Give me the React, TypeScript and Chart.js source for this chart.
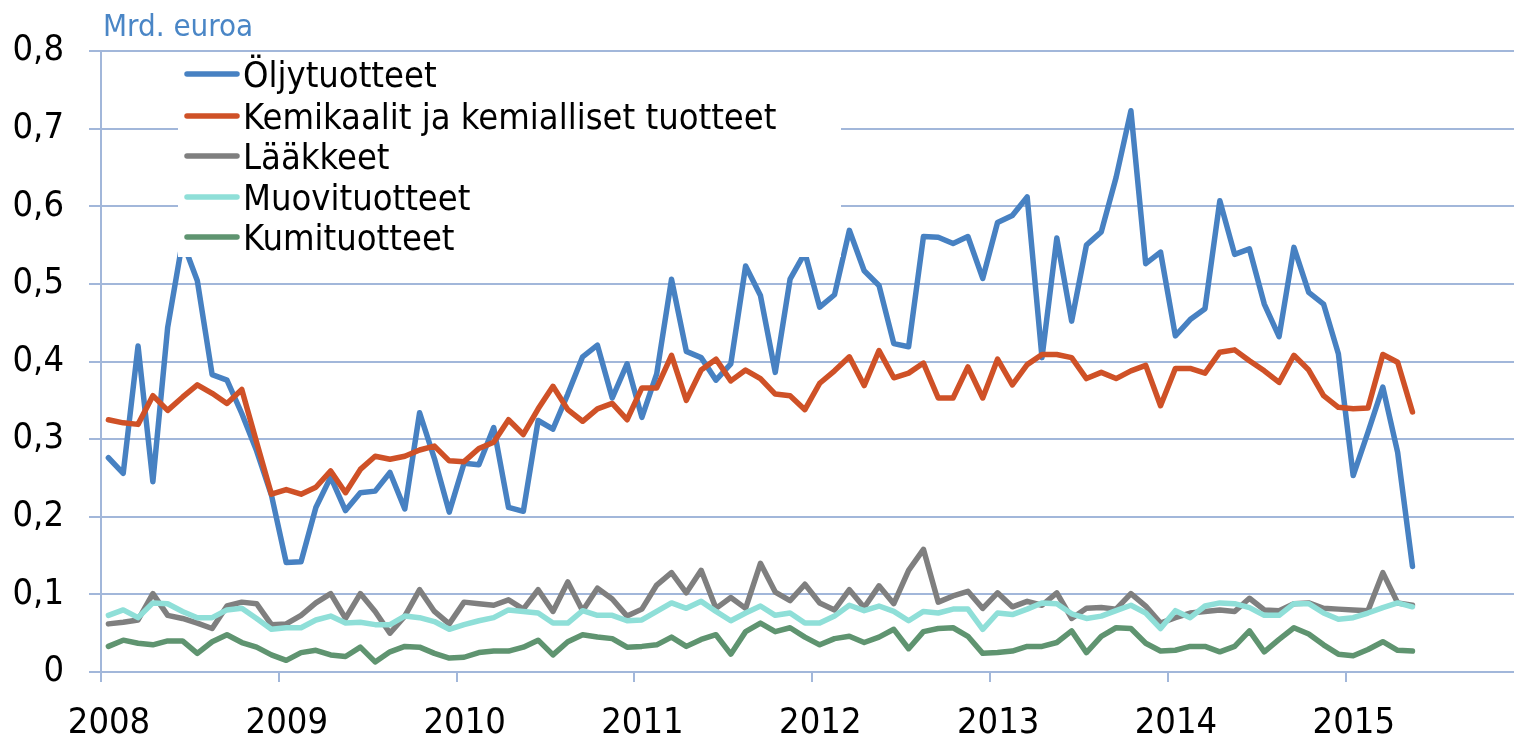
import { useEffect, useRef } from 'react';
import { Chart, registerables } from 'chart.js';

Chart.register(...registerables);

const FONT = "'DejaVu Sans Condensed', 'DejaVu Sans', Verdana, sans-serif";

const firstYear = 2008;
const lastAxisYear = 2015.946;
const yearTicks = [2008, 2009, 2010, 2011, 2012, 2013, 2014, 2015];
const yTickValues = [0, 0.1, 0.2, 0.3, 0.4, 0.5, 0.6, 0.7, 0.8];
const unitLabel = 'Mrd. euroa';

const seriesNames = [
  'Öljytuotteet',
  'Kemikaalit ja kemialliset tuotteet',
  'Lääkkeet',
  'Muovituotteet',
  'Kumituotteet',
];
const seriesColors = ['#4781C2', '#CF5127', '#7F7F7F', '#8FDFD8', '#5F9470'];

// monthly values, Jan 2008 – May 2015
const oljytuotteet = [
  0.276, 0.256, 0.420, 0.245, 0.444, 0.555, 0.504, 0.383, 0.376, 0.333, 0.285, 0.228,
  0.141, 0.142, 0.212, 0.251, 0.208, 0.231, 0.233, 0.257, 0.210, 0.334, 0.275, 0.206,
  0.269, 0.267, 0.315, 0.212, 0.207, 0.324, 0.313, 0.358, 0.406, 0.421, 0.353, 0.397,
  0.328, 0.384, 0.506, 0.413, 0.405, 0.376, 0.397, 0.523, 0.485, 0.386, 0.506, 0.540,
  0.470, 0.486, 0.569, 0.517, 0.498, 0.423, 0.419, 0.561, 0.560, 0.552, 0.561, 0.507,
  0.579, 0.588, 0.612, 0.405, 0.559, 0.452, 0.550, 0.567, 0.637, 0.723, 0.526, 0.541,
  0.433, 0.454, 0.468, 0.607, 0.538, 0.545, 0.474, 0.432, 0.547, 0.489, 0.474, 0.410,
  0.253, 0.309, 0.367, 0.283, 0.136,
];
const kemikaalit = [
  0.325, 0.321, 0.319, 0.356, 0.337, 0.354, 0.370, 0.359, 0.346, 0.364, 0.296, 0.229,
  0.235, 0.229, 0.238, 0.259, 0.231, 0.261, 0.278, 0.274, 0.278, 0.286, 0.291, 0.272,
  0.271, 0.288, 0.296, 0.325, 0.306, 0.339, 0.368, 0.338, 0.323, 0.339, 0.346, 0.325,
  0.366, 0.366, 0.408, 0.350, 0.389, 0.403, 0.375, 0.389, 0.378, 0.358, 0.356, 0.338,
  0.372, 0.388, 0.406, 0.369, 0.414, 0.379, 0.385, 0.398, 0.353, 0.353, 0.393, 0.353,
  0.403, 0.370, 0.396, 0.409, 0.409, 0.405, 0.378, 0.386, 0.378, 0.388, 0.395, 0.343,
  0.391, 0.391, 0.385, 0.412, 0.415, 0.401, 0.388, 0.373, 0.408, 0.389, 0.356, 0.341,
  0.339, 0.340, 0.409, 0.399, 0.335,
];
const laakkeet = [
  0.062, 0.064, 0.067, 0.101, 0.073, 0.069, 0.063, 0.056, 0.085, 0.090, 0.088, 0.061,
  0.062, 0.073, 0.089, 0.101, 0.069, 0.101, 0.078, 0.050, 0.072, 0.106, 0.078, 0.062,
  0.090, 0.088, 0.086, 0.093, 0.081, 0.106, 0.078, 0.116, 0.079, 0.108, 0.094, 0.072,
  0.081, 0.112, 0.128, 0.102, 0.131, 0.082, 0.096, 0.082, 0.140, 0.103, 0.092, 0.113,
  0.089, 0.080, 0.106, 0.083, 0.111, 0.088, 0.131, 0.158, 0.090, 0.098, 0.104, 0.082,
  0.102, 0.084, 0.091, 0.086, 0.102, 0.069, 0.082, 0.083, 0.081, 0.101, 0.085, 0.063,
  0.070, 0.076, 0.078, 0.080, 0.078, 0.095, 0.080, 0.079, 0.088, 0.089, 0.082, 0.081,
  0.080, 0.079, 0.128, 0.089, 0.086,
];
const muovituotteet = [
  0.073, 0.080, 0.070, 0.089, 0.088, 0.078, 0.070, 0.070, 0.080, 0.082, 0.069, 0.055,
  0.057, 0.057, 0.067, 0.072, 0.063, 0.064, 0.061, 0.061, 0.072, 0.070, 0.065, 0.055,
  0.061, 0.066, 0.070, 0.080, 0.078, 0.076, 0.063, 0.063, 0.079, 0.073, 0.073, 0.066,
  0.067, 0.078, 0.089, 0.082, 0.091, 0.078, 0.066, 0.076, 0.085, 0.073, 0.076, 0.063,
  0.063, 0.072, 0.086, 0.079, 0.085, 0.078, 0.066, 0.078, 0.076, 0.081, 0.081, 0.055,
  0.076, 0.074, 0.081, 0.089, 0.088, 0.075, 0.069, 0.072, 0.079, 0.086, 0.076, 0.056,
  0.079, 0.070, 0.085, 0.089, 0.088, 0.083, 0.073, 0.073, 0.088, 0.088, 0.076, 0.068,
  0.070, 0.076, 0.083, 0.089, 0.084,
];
const kumituotteet = [
  0.033, 0.041, 0.037, 0.035, 0.040, 0.040, 0.024, 0.039, 0.048, 0.038, 0.032, 0.022,
  0.015, 0.025, 0.028, 0.022, 0.020, 0.032, 0.013, 0.026, 0.033, 0.032, 0.024, 0.018,
  0.019, 0.025, 0.027, 0.027, 0.032, 0.041, 0.022, 0.039, 0.048, 0.045, 0.043, 0.032,
  0.033, 0.035, 0.045, 0.033, 0.042, 0.048, 0.023, 0.052, 0.063, 0.052, 0.057, 0.045,
  0.035, 0.043, 0.046, 0.038, 0.045, 0.055, 0.030, 0.052, 0.056, 0.057, 0.046, 0.024,
  0.025, 0.027, 0.033, 0.033, 0.038, 0.053, 0.025, 0.046, 0.057, 0.056, 0.037, 0.027,
  0.028, 0.033, 0.033, 0.026, 0.033, 0.053, 0.026, 0.042, 0.057, 0.049, 0.035, 0.023,
  0.021, 0.029, 0.039, 0.028, 0.027,
];

const seriesValues = [oljytuotteet, kemikaalit, laakkeet, muovituotteet, kumituotteet];

const GRID = '#A2B7DA';

const legendPlugin = {
  id: 'boxLegend',
  afterDatasetsDraw(chart: any) {
    const ctx = chart.ctx;
    const a = chart.chartArea;
    const x0 = a.left + 77;
    const y0 = a.top + 5;
    const x1 = a.left + 740;
    const y1 = a.top + 206;
    ctx.save();
    ctx.fillStyle = '#ffffff';
    ctx.fillRect(x0, y0, x1 - x0, y1 - y0);
    const rowY = [74, 116, 156, 197, 237];
    ctx.font = `36px ${FONT}`;
    ctx.textBaseline = 'alphabetic';
    ctx.textAlign = 'left';
    seriesNames.forEach((name, i) => {
      const y = rowY[i];
      ctx.strokeStyle = seriesColors[i];
      ctx.lineWidth = 5.5;
      ctx.lineCap = 'round';
      ctx.beginPath();
      ctx.moveTo(a.left + 86, y);
      ctx.lineTo(a.left + 136, y);
      ctx.stroke();
      ctx.fillStyle = '#000000';
      ctx.fillText(name, a.left + 142, y + 13);
    });
    ctx.restore();
  },
  afterDraw(chart: any) {
    const ctx = chart.ctx;
    ctx.save();
    ctx.font = `31px ${FONT}`;
    ctx.fillStyle = '#4A86C6';
    ctx.textAlign = 'left';
    ctx.textBaseline = 'alphabetic';
    ctx.fillText(unitLabel, 103, 36);
    ctx.restore();
  },
};

export default function App() {
  const ref = useRef<HTMLCanvasElement | null>(null);

  useEffect(() => {
    document.body.style.margin = '0';
    const canvas = ref.current;
    if (!canvas) return;
    const datasets = seriesNames.map((name, s) => ({
      label: name,
      data: seriesValues[s].map((v, i) => ({ x: firstYear + (i + 0.5) / 12, y: v })),
      borderColor: seriesColors[s],
      backgroundColor: seriesColors[s],
      borderWidth: 5.5,
      pointRadius: 0,
      pointHoverRadius: 0,
      tension: 0,
      fill: false,
      borderJoinStyle: 'round' as const,
      borderCapStyle: 'round' as const,
      order: seriesNames.length - s,
    }));
    const chart = new Chart(canvas, {
      type: 'line',
      data: { datasets },
      plugins: [legendPlugin],
      options: {
        animation: false,
        responsive: false,
        devicePixelRatio: 1,
        layout: { padding: { top: 51, left: 0, right: 0, bottom: 0 } },
        plugins: {
          legend: { display: false },
          tooltip: { enabled: false },
          title: { display: false },
        },
        scales: {
          x: {
            type: 'linear',
            min: firstYear,
            max: lastAxisYear,
            afterBuildTicks: (scale: any) => {
              scale.ticks = yearTicks.map((v) => ({ value: v }));
            },
            afterFit: (scale: any) => {
              scale.height = 66;
            },
            ticks: {
              autoSkip: false,
              maxRotation: 0,
              minRotation: 0,
              labelOffset: 8,
              padding: 20,
              color: '#000000',
              font: { family: FONT, size: 36 },
              callback: (v: any) => String(v),
            },
            grid: {
              drawOnChartArea: false,
              drawTicks: true,
              tickLength: 10,
              color: GRID,
              lineWidth: 2,
            },
            border: { display: true, color: GRID, width: 2 },
          },
          y: {
            type: 'linear',
            min: 0,
            max: 0.8,
            afterBuildTicks: (scale: any) => {
              scale.ticks = yTickValues.map((v) => ({ value: v }));
            },
            afterFit: (scale: any) => {
              scale.width = 101;
            },
            ticks: {
              padding: 25,
              color: '#000000',
              font: { family: FONT, size: 36 },
              callback: (v: any) => (v === 0 ? '0' : Number(v).toFixed(1).replace('.', ',')),
            },
            grid: {
              color: GRID,
              lineWidth: 2,
              tickLength: 12,
              drawTicks: true,
            },
            border: { display: true, color: GRID, width: 2 },
          },
        },
      },
    });
    return () => chart.destroy();
  }, []);

  return (
    <div style={{ width: 1514, height: 738, position: 'relative' }}>
      <canvas ref={ref} width={1514} height={738} style={{ display: 'block' }} />
    </div>
  );
}
